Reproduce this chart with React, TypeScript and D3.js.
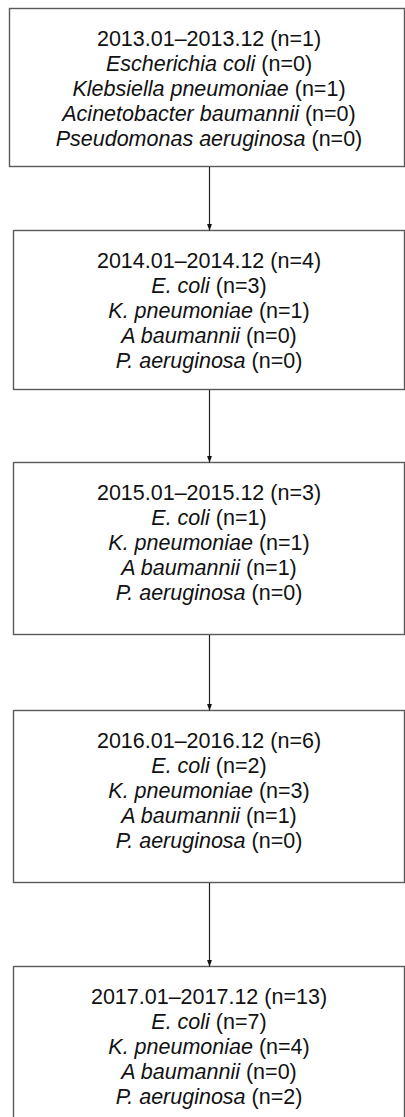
import React from "react";
import * as d3 from "d3";

const periods = ["2013.01–2013.12", "2014.01–2014.12", "2015.01–2015.12", "2016.01–2016.12", "2017.01–2017.12"];
const totals = [1, 4, 3, 6, 13];
const fullNames = ["Escherichia coli", "Klebsiella pneumoniae", "Acinetobacter baumannii", "Pseudomonas aeruginosa"];
const shortNames = ["E. coli", "K. pneumoniae", "A baumannii", "P. aeruginosa"];
const ecoli = [0, 3, 1, 2, 7];
const kpneumoniae = [1, 1, 1, 3, 4];
const abaumannii = [0, 0, 1, 1, 0];
const paeruginosa = [0, 0, 0, 0, 2];

// layout (pixels)
const W = 405;
const H = 1117;
const boxTops = [8, 230, 462, 710, 966];
const boxBottoms = [166, 389, 634, 882, 1130];
const boxLefts = [9, 13, 13, 13, 13];
const boxRight = 404;
const centerX = 209;
const lineGap = 25;
const firstBaseline = 38;

export default function App() {
  const counts = [ecoli, kpneumoniae, abaumannii, paeruginosa];
  const idx = d3.range(periods.length);
  const stroke = "#5a5a5a";
  const font = "'Liberation Sans', Arial, Helvetica, sans-serif";
  return (
    <svg
      width={W}
      height={H}
      viewBox={`0 0 ${W} ${H}`}
      style={{ position: "absolute", left: 0, top: 0, background: "#fff" }}
    >
      <defs>
        <marker id="ah" viewBox="0 0 8 6" refX="8" refY="3" markerWidth="7" markerHeight="5" orient="auto" markerUnits="userSpaceOnUse">
          <path d="M0,0 L8,3 L0,6 Z" fill="#111" />
        </marker>
      </defs>
      {idx.map((i) => (
        <rect
          key={"b" + i}
          x={boxLefts[i] + 0.5}
          y={boxTops[i] + 0.5}
          width={boxRight - boxLefts[i]}
          height={boxBottoms[i] - boxTops[i]}
          fill="#fff"
          stroke={stroke}
          strokeWidth={1.4}
        />
      ))}
      {idx.slice(0, -1).map((i) => (
        <line
          key={"a" + i}
          x1={centerX + 0.5}
          x2={centerX + 0.5}
          y1={boxBottoms[i] + 1}
          y2={boxTops[i + 1] + 0.5}
          stroke="#222"
          strokeWidth={1.2}
          markerEnd="url(#ah)"
        />
      ))}
      {idx.map((i) => {
        const names = i === 0 ? fullNames : shortNames;
        const base = boxTops[i] + firstBaseline;
        return (
          <g key={"t" + i} fontFamily={font} fontSize={21.5} fill="#111" textAnchor="middle">
            <text x={centerX} y={base}>{`${periods[i]} (n=${totals[i]})`}</text>
            {names.map((nm, k) => (
              <text key={k} x={centerX} y={base + lineGap * (k + 1)}>
                <tspan fontStyle="italic">{nm}</tspan>
                <tspan>{` (n=${counts[k][i]})`}</tspan>
              </text>
            ))}
          </g>
        );
      })}
    </svg>
  );
}
